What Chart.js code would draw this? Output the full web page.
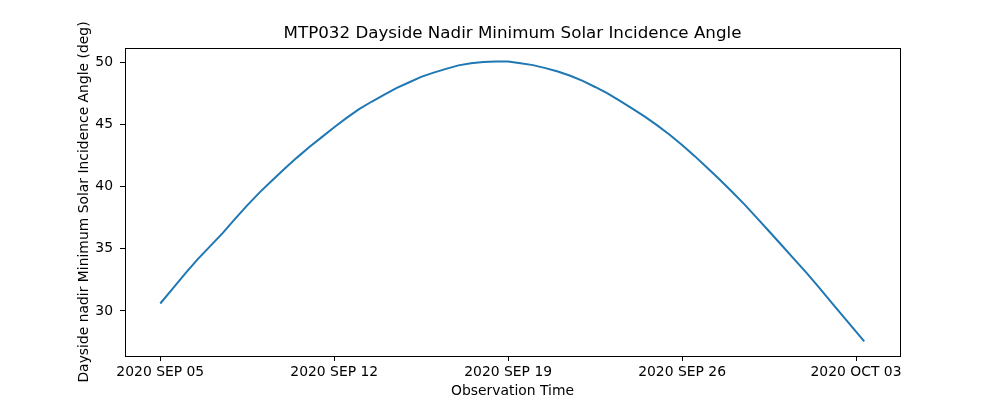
<!DOCTYPE html>
<html>
<head>
<meta charset="utf-8">
<script src="https://cdn.jsdelivr.net/npm/chart.js"></script>
<style>
  html, body { margin: 0; padding: 0; background: #fff; }
  canvas { display: block; }
</style>
</head>
<body>
<canvas id="grafico" width="1000" height="400"></canvas>
<script>
// MTP032 - ángulo mínimo de incidencia solar (nadir, lado diurno)
// x = días desde 2020 SEP 05 00:00

const obsDay = [0, 0.5, 1, 1.5, 2, 2.5, 3, 3.5, 4, 4.5, 5, 5.5, 6, 6.5, 7, 7.5, 8, 8.5, 9, 9.5,
    10, 10.5, 11, 11.5, 12, 12.5, 13, 13.5, 14, 14.5, 15, 15.5, 16, 16.5, 17, 17.5, 18, 18.5, 19, 19.5,
    20, 20.5, 21, 21.5, 22, 22.5, 23, 23.5, 24, 24.5, 25, 25.5, 26, 26.5, 27, 27.5, 28, 28.33];

const angle = [30.6, 31.8, 33.0, 34.15, 35.2, 36.25, 37.4, 38.5, 39.55, 40.5, 41.45, 42.35, 43.2, 44.0, 44.8, 45.55,
    46.25, 46.85, 47.4, 47.95, 48.4, 48.85, 49.2, 49.5, 49.78, 49.96, 50.06, 50.1, 50.09, 49.95, 49.8, 49.56,
    49.29, 48.94, 48.53, 48.04, 47.52, 46.92, 46.3, 45.65, 44.95, 44.19, 43.37, 42.49, 41.55, 40.6,
    39.62, 38.6, 37.52, 36.42, 35.31, 34.2, 33.08, 31.91, 30.71, 29.52, 28.34, 27.55];

const xTickDays = [0, 7, 14, 21, 28];
const xTickLabels = ['2020 SEP 05', '2020 SEP 12', '2020 SEP 19', '2020 SEP 26', '2020 OCT 03'];
const yTicks = [30, 35, 40, 45, 50];

const titulo = 'MTP032 Dayside Nadir Minimum Solar Incidence Angle';
const fuente = 'DejaVu Sans';

// marco completo y título centrado sobre el área del gráfico (estilo matplotlib)
const marco = {
    id: 'marco',
    afterDraw(chart) {
        const { ctx, chartArea: a } = chart;
        ctx.save();
        ctx.strokeStyle = '#000';
        ctx.lineWidth = 1;
        ctx.strokeRect(Math.round(a.left) + 0.5, Math.round(a.top) + 0.5,
            Math.round(a.right - a.left), Math.round(a.bottom - a.top));
        ctx.fillStyle = '#000';
        ctx.font = '16.7px "' + fuente + '"';
        ctx.textAlign = 'center';
        ctx.textBaseline = 'middle';
        ctx.fillText(titulo, (a.left + a.right) / 2, a.top - 14);
        ctx.restore();
    }
};

const puntos = obsDay.map((d, i) => ({ x: d, y: angle[i] }));

new Chart(document.getElementById('grafico').getContext('2d'), {
    type: 'line',
    data: {
        datasets: [{
            data: puntos,
            borderColor: '#1f77b4',
            borderWidth: 2,
            pointRadius: 0,
            tension: 0,
            fill: false
        }]
    },
    options: {
        responsive: false,
        animation: false,
        devicePixelRatio: 1,
        layout: { padding: { left: 0, right: 100, top: 48, bottom: 0 } },
        plugins: {
            legend: { display: false },
            tooltip: { enabled: false },
            title: { display: false }
        },
        scales: {
            x: {
                type: 'linear',
                min: -1.42,
                max: 29.77,
                afterBuildTicks: s => { s.ticks = xTickDays.map(v => ({ value: v })); },
                afterFit: s => { s.height = 44; },
                ticks: {
                    color: '#000',
                    font: { family: fuente, size: 13.9 },
                    padding: 3,
                    maxRotation: 0,
                    autoSkip: false,
                    callback: v => xTickLabels[xTickDays.indexOf(v)]
                },
                grid: { drawOnChartArea: false, tickLength: 5, tickColor: '#000', tickWidth: 1 },
                border: { display: false },
                title: {
                    display: true,
                    text: 'Observation Time',
                    color: '#000',
                    font: { family: fuente, size: 13.9 },
                    padding: { top: 0, bottom: 0 }
                }
            },
            y: {
                type: 'linear',
                min: 26.37,
                max: 51.18,
                afterBuildTicks: s => { s.ticks = yTicks.map(v => ({ value: v })); },
                afterFit: s => { s.width = 125; },
                ticks: {
                    color: '#000',
                    font: { family: fuente, size: 13.9 },
                    padding: 7,
                    callback: v => String(v)
                },
                grid: { drawOnChartArea: false, tickLength: 5, tickColor: '#000', tickWidth: 1 },
                border: { display: false },
                title: {
                    display: true,
                    text: 'Dayside nadir Minimum Solar Incidence Angle (deg)',
                    color: '#000',
                    font: { family: fuente, size: 13.9 },
                    padding: { top: 76, bottom: 0 }
                }
            }
        }
    },
    plugins: [marco]
});
</script>
</body>
</html>
